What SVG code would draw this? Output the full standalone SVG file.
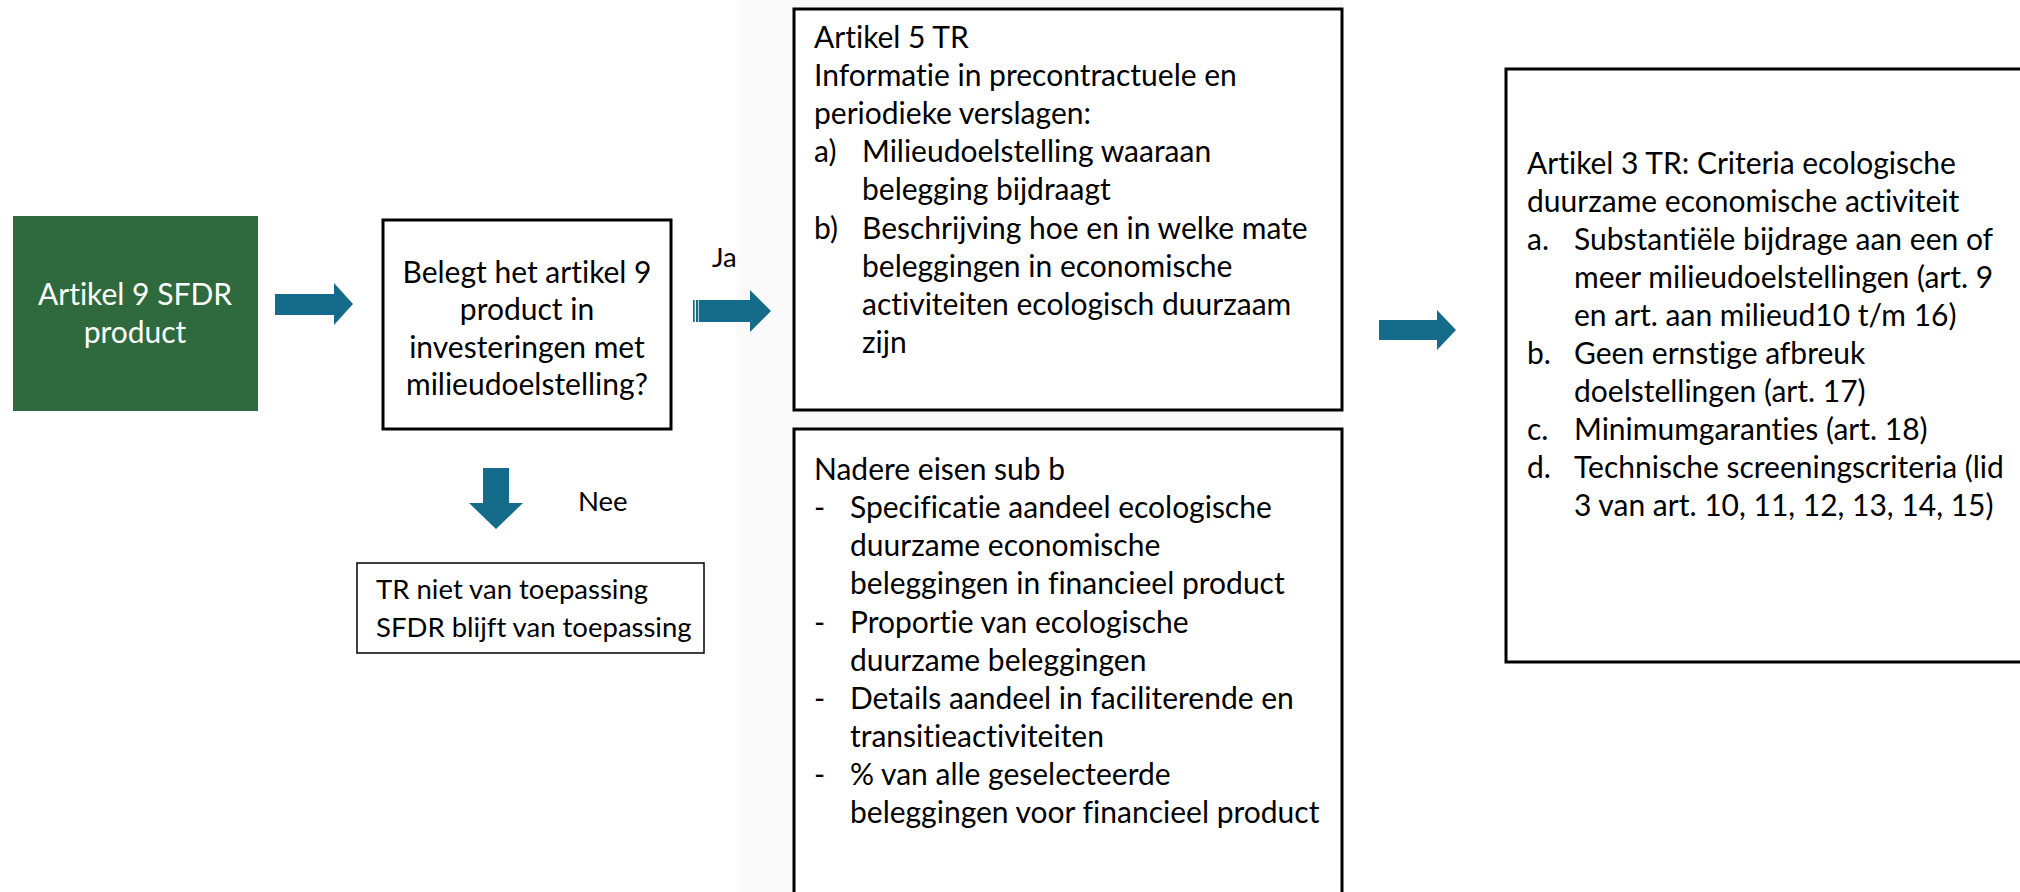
<svg xmlns="http://www.w3.org/2000/svg" width="2020" height="892" viewBox="0 0 2020 892">
<style>
text{font-family:Lato,"Open Sans","Liberation Sans",sans-serif;font-size:30px;fill:#000;font-variant-ligatures:none;font-feature-settings:"liga" 0,"clig" 0}
.w{fill:#fff}
.c{text-anchor:middle}
.s{font-size:27.5px}
.box{fill:#fff;stroke:#000;stroke-width:3}
.thin{fill:#fff;stroke:#000;stroke-width:1.5}
.arr{fill:#156b8a}
</style>
<rect x="0" y="0" width="2020" height="892" fill="#fff"/>
<rect x="737" y="0" width="605" height="892" fill="#fafafa"/>
<g id="connectors">
<polygon class="arr" points="275,294 334,294 334,283 353,304 334,325 334,315 275,315"/>
<rect class="arr" x="693" y="300" width="1.7" height="22"/>
<rect class="arr" x="696" y="300" width="2.3" height="22"/>
<polygon class="arr" points="699,300 750,300 750,290 771,311 750,332 750,322 699,322"/>
<polygon class="arr" points="483,468 509,468 509,503 523,503 496,529 469,503 483,503"/>
<polygon class="arr" points="1379,320 1437,320 1437,310 1456,330 1437,350 1437,340 1379,340"/>
<text class="s" x="712" y="267">Ja</text>
<text class="s" x="578" y="511">Nee</text>
</g>
<g id="start">
<rect x="13" y="216" width="245" height="195" fill="#2e6a3e"/>
<text class="w c" x="135" y="305">Artikel 9 SFDR</text>
<text class="w c" x="135" y="343">product</text>
</g>
<g id="question">
<rect class="box" x="383" y="220" width="288" height="209"/>
<text class="c" x="527" y="283">Belegt het artikel 9</text>
<text class="c" x="527" y="320">product in</text>
<text class="c" x="527" y="358">investeringen met</text>
<text class="c" x="527" y="395">milieudoelstelling?</text>
</g>
<g id="nee-result">
<rect class="thin" x="357" y="563" width="347" height="90"/>
<text class="s" x="376" y="599">TR niet van toepassing</text>
<text class="s" x="376" y="637">SFDR blijft van toepassing</text>
</g>
<g id="artikel5">
<rect class="box" x="794" y="9" width="548" height="401"/>
<text x="814" y="48">Artikel 5 TR</text>
<text x="814" y="86">Informatie in precontractuele en</text>
<text x="814" y="124">periodieke verslagen:</text>
<text x="814" y="162">a)</text>
<text x="862" y="162">Milieudoelstelling waaraan</text>
<text x="862" y="200">belegging bijdraagt</text>
<text x="814" y="239">b)</text>
<text x="862" y="239">Beschrijving hoe en in welke mate</text>
<text x="862" y="277">beleggingen in economische</text>
<text x="862" y="315">activiteiten ecologisch duurzaam</text>
<text x="862" y="353">zijn</text>
</g>
<g id="nadere-eisen">
<rect class="box" x="794" y="429" width="548" height="480"/>
<text x="814" y="480">Nadere eisen sub b</text>
<text x="814" y="518">-</text>
<text x="850" y="518">Specificatie aandeel ecologische</text>
<text x="850" y="556">duurzame economische</text>
<text x="850" y="594">beleggingen in financieel product</text>
<text x="814" y="633">-</text>
<text x="850" y="633">Proportie van ecologische</text>
<text x="850" y="671">duurzame beleggingen</text>
<text x="814" y="709">-</text>
<text x="850" y="709">Details aandeel in faciliterende en</text>
<text x="850" y="747">transitieactiviteiten</text>
<text x="814" y="785">-</text>
<text x="850" y="785">% van alle geselecteerde</text>
<text x="850" y="823">beleggingen voor financieel product</text>
</g>
<g id="artikel3">
<rect class="box" x="1506" y="69" width="530" height="593"/>
<text x="1527" y="174">Artikel 3 TR: Criteria ecologische</text>
<text x="1527" y="212">duurzame economische activiteit</text>
<text x="1527" y="250">a.</text>
<text x="1574" y="250">Substantiële bijdrage aan een of</text>
<text x="1574" y="288">meer milieudoelstellingen (art. 9</text>
<text x="1574" y="326">en art. aan milieud10 t/m 16)</text>
<text x="1527" y="364">b.</text>
<text x="1574" y="364">Geen ernstige afbreuk</text>
<text x="1574" y="402">doelstellingen (art. 17)</text>
<text x="1527" y="440">c.</text>
<text x="1574" y="440">Minimumgaranties (art. 18)</text>
<text x="1527" y="478">d.</text>
<text x="1574" y="478">Technische screeningscriteria (lid</text>
<text x="1574" y="516">3 van art. 10, 11, 12, 13, 14, 15)</text>
</g>
</svg>
